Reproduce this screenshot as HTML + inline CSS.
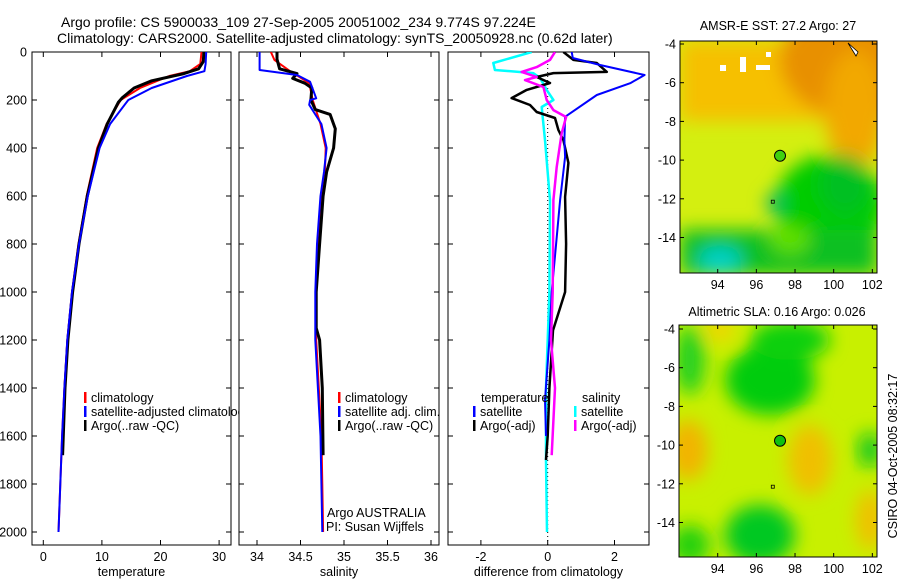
<!DOCTYPE html>
<html><head><meta charset="utf-8"><style>
html,body{margin:0;padding:0;background:#fff;}
svg{display:block;font-family:"Liberation Sans",sans-serif;}
</style></head><body>
<svg id="fig" width="900" height="580" viewBox="0 0 900 580" xmlns="http://www.w3.org/2000/svg">
<defs>
<filter id="blur" x="-50%" y="-50%" width="200%" height="200%"><feGaussianBlur stdDeviation="9"/></filter>
<filter id="blur2" x="-50%" y="-50%" width="200%" height="200%"><feGaussianBlur stdDeviation="5"/></filter>
<clipPath id="c1"><rect x="32" y="52" width="199" height="493"/></clipPath>
<clipPath id="c2"><rect x="239" y="52" width="200" height="493"/></clipPath>
<clipPath id="c3"><rect x="448" y="52" width="201" height="493"/></clipPath>
<clipPath id="cl1"><rect x="0" y="0" width="239" height="580"/></clipPath>
<clipPath id="m1"><rect x="680" y="41" width="197" height="232"/></clipPath>
<clipPath id="m2"><rect x="679" y="325" width="198" height="232"/></clipPath>
</defs>
<text x="61" y="27" font-size="14">Argo profile: CS 5900033_109 27-Sep-2005 20051002_234 9.774S 97.224E</text>
<text x="57" y="43" font-size="14">Climatology: CARS2000. Satellite-adjusted climatology: synTS_20050928.nc (0.62d later)</text>

<!-- map 1 -->
<g>
<g clip-path="url(#m1)">
<rect x="680" y="41" width="197" height="232" fill="#d4ef10"/>
<g filter="url(#blur)">
<rect x="680" y="41" width="197" height="80" fill="#f6c000"/>
<ellipse cx="860" cy="60" rx="80" ry="60" fill="#e89000"/>
<ellipse cx="855" cy="110" rx="30" ry="60" fill="#f2a800"/>
<ellipse cx="830" cy="205" rx="55" ry="50" fill="#00cc00"/>
<ellipse cx="845" cy="185" rx="25" ry="30" fill="#00c020"/>
<rect x="680" y="230" width="197" height="45" fill="#10c020"/>
<ellipse cx="720" cy="260" rx="22" ry="14" fill="#00d0c8"/>
<ellipse cx="790" cy="240" rx="20" ry="14" fill="#60e000"/>
<ellipse cx="775" cy="203" rx="9" ry="9" fill="#00b070"/>
</g>
<rect x="720" y="65" width="6" height="6" fill="#fff"/><rect x="740" y="57" width="6" height="15" fill="#fff"/><rect x="756" y="65" width="14" height="5" fill="#fff"/><rect x="766" y="52" width="5" height="5" fill="#fff"/>
<path d="M848 43 L858 52 L856 56 Z" fill="#fff" stroke="#000" stroke-width="0.8"/>
</g>
<rect x="680" y="41" width="197" height="232" fill="none" stroke="#000"/>
</g>
<!-- map 2 -->
<g>
<g clip-path="url(#m2)">
<rect x="679" y="325" width="198" height="232" fill="#c8f000"/>
<g filter="url(#blur)">
<ellipse cx="770" cy="380" rx="45" ry="35" fill="#00cc10"/>
<ellipse cx="790" cy="340" rx="40" ry="20" fill="#10d010"/>
<ellipse cx="690" cy="360" rx="15" ry="35" fill="#20d020"/>
<ellipse cx="760" cy="535" rx="35" ry="30" fill="#00c820"/>
<ellipse cx="690" cy="545" rx="20" ry="20" fill="#20d010"/>
<ellipse cx="870" cy="450" rx="12" ry="18" fill="#10c820"/>
<ellipse cx="688" cy="450" rx="20" ry="30" fill="#f2b400"/>
<ellipse cx="810" cy="460" rx="22" ry="35" fill="#f0c000"/>
<ellipse cx="870" cy="520" rx="14" ry="30" fill="#f0c000"/>
<ellipse cx="720" cy="330" rx="15" ry="10" fill="#f6d000"/>
</g>
</g>
<rect x="679" y="325" width="198" height="232" fill="none" stroke="#000"/>
</g>
<text x="778" y="30" font-size="12.5" text-anchor="middle">AMSR-E SST: 27.2 Argo: 27</text>
<text x="777" y="316" font-size="12.5" text-anchor="middle">Altimetric SLA: 0.16 Argo: 0.026</text>
<text transform="translate(897,456) rotate(-90)" font-size="12.5" text-anchor="middle">CSIRO 04-Oct-2005 08:32:17</text>

<g id="plots"></g>
</svg>
<script>
// ---- data ----
const tDepth = [0,50,80,100,150,200,300,400,600,800,1000,1200,1400,1600,1800,2000];
const tClim  = [27.0,26.8,25.0,21.5,16.5,13.2,10.8,9.2,7.4,6.0,4.9,4.1,3.6,3.2,2.9,2.6];
const tSat   = [27.8,27.7,27.5,24.5,18.5,14.5,11.4,9.6,7.6,6.1,4.9,4.1,3.6,3.2,2.9,2.6];
const aTDepth = [0,40,70,90,120,150,190,210,300,400,600,800,1000,1200,1400,1680];
const aTemp   = [27.4,27.3,26.5,24.0,18.5,15.5,13.5,12.8,10.9,9.4,7.5,6.1,5.0,4.2,3.7,3.3];

const sDepth = [0,75,96,124,193,200,220,300,400,500,600,800,1000,1200,1400,1600,1800,2000];
const sSat   = [34.03,34.03,34.46,34.61,34.68,34.61,34.60,34.74,34.80,34.77,34.73,34.69,34.67,34.67,34.70,34.73,34.74,34.75];
const sClimD = [0,33,80,100,130,200,300,400,500,600,800,1000,1200,1400,1600,1800,2000];
const sClim  = [34.16,34.20,34.38,34.47,34.60,34.64,34.73,34.79,34.78,34.74,34.70,34.68,34.68,34.71,34.74,34.75,34.76];
const aSDepth = [0,30,70,90,110,130,150,200,240,260,320,400,450,500,600,800,1000,1150,1200,1400,1680];
const aSal    = [34.23,34.23,34.26,34.46,34.41,34.55,34.63,34.62,34.67,34.84,34.90,34.88,34.84,34.80,34.76,34.72,34.68,34.68,34.72,34.75,34.76];

const dSatTD = [0,25,54,96,130,179,270,367,437,617,800,1000,1200,1450,1600];
const dSatT  = [0.72,0.75,1.57,2.9,2.47,1.47,0.52,0.5,0.52,0.37,0.25,0.12,0.05,-0.08,-0.05];
const dArgTD = [0,33,46,83,88,104,129,158,192,221,250,275,325,367,462,604,800,1000,1160,1400,1600,1700];
const dArgT  = [0.47,0.77,1.47,1.77,0.17,-0.33,0.07,-0.63,-1.08,-0.53,-0.33,0.22,0.32,0.47,0.62,0.52,0.55,0.52,0.16,0.05,0.0,-0.05];
const dSatSD = [0,46,75,88,108,158,200,229,367,617,1000,1400,1700,2000];
const dSatS  = [-0.48,-1.63,-1.58,-0.43,-0.23,-0.03,0.17,-0.18,-0.08,0.07,0.05,-0.05,-0.05,-0.02];
const dArgSD = [0,33,63,83,104,117,146,200,242,271,338,479,617,1000,1200,1400,1680];
const dArgS  = [0.22,0.07,-0.33,-0.78,-0.33,-0.68,-0.13,-0.03,0.17,0.55,0.42,0.27,0.17,0.15,0.1,0.22,0.12];

const depthTicks = [0,200,400,600,800,1000,1200,1400,1600,1800,2000];
const tTicks = [0,10,20,30];
const sTicks = [34,34.5,35,35.5,36];
const dTicks = [-2,0,2];

// ---- scales ----
const Y = d => 52 + d*0.24;
const XT = v => 43.3 + v*5.86;
const XS = v => 257 + (v-34)*87;
const XD = v => 547.7 + v*33.4;

const NS='http://www.w3.org/2000/svg';
const root=document.getElementById('plots');
function mk(tag,attrs,parent){const e=document.createElementNS(NS,tag);for(const k in attrs)e.setAttribute(k,attrs[k]);(parent||root).appendChild(e);return e;}

function panel(name,x0,x1,xs,ticks,label,clip,yLabels){
  const g=mk('g',{});
  
  
  const fr=mk('rect',{x:x0,y:52,width:x1-x0,height:493,fill:'none',stroke:'#000'},g);
  
  
  ticks.forEach(t=>{
    const x=xs(t);
    mk('line',{x1:x,x2:x,y1:52,y2:57,stroke:'#000'},g);
    mk('line',{x1:x,x2:x,y1:545,y2:540,stroke:'#000'},g);
    const tx=mk('text',{x:x,y:561,'font-size':12.5,'text-anchor':'middle'},g);
    tx.textContent=String(t);
    
    
  });
  depthTicks.forEach(d=>{
    const y=Y(d);
    mk('line',{x1:x0,x2:x0+5,y1:y,y2:y,stroke:'#000'},g);
    mk('line',{x1:x1,x2:x1-5,y1:y,y2:y,stroke:'#000'},g);
    if(yLabels){
      const tx=mk('text',{x:27,y:y+4.5,'font-size':12.5,'text-anchor':'end'},g);
      tx.textContent=String(d);
      
      
    }
  });
  const lb=mk('text',{x:(x0+x1)/2,y:576,'font-size':12.5,'text-anchor':'middle'},g);
  lb.textContent=label;
  
  
  return g;
}
function line(g,ds,vs,xs,color,w,name,clip){
  const pts=ds.map((d,i)=>xs(vs[i]).toFixed(1)+','+Y(d).toFixed(1)).join(' ');
  const p=mk('polyline',{points:pts,fill:'none',stroke:color,'stroke-width':w,'stroke-linejoin':'round','clip-path':'url(#'+clip+')'},g);
  
  
}
function legend(g,x,y,color,txt,name){
  mk('rect',{x:x-1,y:y-10,width:2.5,height:11,fill:color},g);
  const t=mk('text',{x:x+6,y:y,'font-size':12.5},g);
  t.textContent=txt;
  
  
  return t;
}

const g1=panel('temperature-panel',32,231,XT,tTicks,'temperature','c1',true);
line(g1,tDepth,tClim,XT,'#f00',2,'temp-climatology-line','c1');
line(g1,aTDepth,aTemp,XT,'#000',3,'temp-argo-line','c1');
line(g1,tDepth,tSat,XT,'#00f',2,'temp-satellite-line','c1');
legend(g1,85,402,'#f00','climatology','legend-climatology');
const lt=legend(g1,85,416,'#00f','satellite-adjusted climatology','legend-satellite');
lt.setAttribute('clip-path','url(#cl1)');
legend(g1,85,430,'#000','Argo(..raw -QC)','legend-argo');

const g2=panel('salinity-panel',239,439,XS,sTicks,'salinity','c2',false);
line(g2,sClimD,sClim,XS,'#f00',2,'sal-climatology-line','c2');
line(g2,aSDepth,aSal,XS,'#000',3,'sal-argo-line','c2');
line(g2,sDepth,sSat,XS,'#00f',2,'sal-satellite-line','c2');
legend(g2,339,402,'#f00','climatology','legend-climatology');
legend(g2,339,416,'#00f','satellite adj. clim.','legend-satellite');
legend(g2,339,430,'#000','Argo(..raw -QC)','legend-argo');
const a1=mk('text',{x:327,y:517,'font-size':12.5},g2);a1.textContent='Argo AUSTRALIA';


const a2=mk('text',{x:326,y:531,'font-size':12.5},g2);a2.textContent='PI: Susan Wijffels';



const g3=panel('difference-panel',448,649,XD,dTicks,'difference from climatology','c3',false);
mk('line',{x1:XD(0),x2:XD(0),y1:52,y2:545,stroke:'#000','stroke-dasharray':'1,3'},g3);
line(g3,dSatSD,dSatS,XD,'#0ff',2.5,'diff-sal-satellite-line','c3');
line(g3,dArgTD,dArgT,XD,'#000',2.5,'diff-temp-argo-line','c3');
line(g3,dSatTD,dSatT,XD,'#00f',2,'diff-temp-satellite-line','c3');
line(g3,dArgSD,dArgS,XD,'#f0f',2.5,'diff-sal-argo-line','c3');
const lh1=mk('text',{x:481,y:402,'font-size':12.5},g3);lh1.textContent='temperature';


const lh2=mk('text',{x:582,y:402,'font-size':12.5},g3);lh2.textContent='salinity';


legend(g3,474,416,'#00f','satellite','legend-temp-satellite');
legend(g3,474,430,'#000','Argo(-adj)','legend-temp-argo');
legend(g3,575,416,'#0ff','satellite','legend-sal-satellite');
legend(g3,575,430,'#f0f','Argo(-adj)','legend-sal-argo');

// map axes
const lonTicks=[94,96,98,100,102];
const latTicks=[-4,-6,-8,-10,-12,-14];
function mapAxes(name,x0,x1,y0,y1,lat0Y,fillCircle){
  const LX=l=>717.7+(l-94)*19.33;
  const LY=l=>lat0Y+(-4-l)*19.35;
  const g=mk('g',{});
  
  
  lonTicks.forEach(l=>{
    const x=LX(l);
    mk('line',{x1:x,x2:x,y1:y0,y2:y0+4,stroke:'#000'},g);
    mk('line',{x1:x,x2:x,y1:y1,y2:y1-4,stroke:'#000'},g);
    const t=mk('text',{x:x,y:y1+16,'font-size':12.5,'text-anchor':'middle'},g);t.textContent=String(l);
    
    
  });
  latTicks.forEach(l=>{
    const y=LY(l);
    mk('line',{x1:x0,x2:x0+4,y1:y,y2:y,stroke:'#000'},g);
    mk('line',{x1:x1,x2:x1-4,y1:y,y2:y,stroke:'#000'},g);
    const t=mk('text',{x:x0-4,y:y+4.5,'font-size':12.5,'text-anchor':'end'},g);t.textContent=String(l);
    
    
  });
  const c=mk('circle',{cx:LX(97.224),cy:LY(-9.774),r:5.5,fill:fillCircle,stroke:'#000','stroke-width':1},g);
  
  
  mk('rect',{x:LX(96.85)-1.5,y:LY(-12.15)-1.5,width:3,height:3,fill:'none',stroke:'#000','stroke-width':0.8},g);
}
mapAxes('sst-map-axes',680,877,41,273,44,'#40d010');
mapAxes('sla-map-axes',679,877,325,557,329,'#10c010');
</script>
</body></html>
